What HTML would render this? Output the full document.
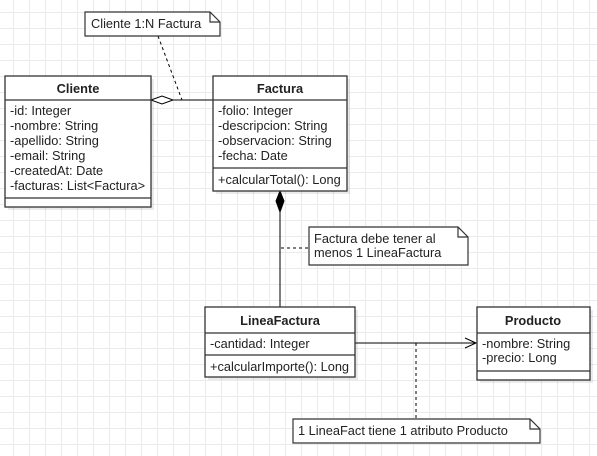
<!DOCTYPE html>
<html><head><style>
body{margin:0;width:597px;height:456px;overflow:hidden;background:#fff;
background-image:linear-gradient(#ebebeb 1px,transparent 1px),linear-gradient(90deg,#ebebeb 1px,transparent 1px);
background-size:16px 16px;background-position:13px 12px;font-family:"Liberation Sans",sans-serif;}
svg{position:absolute;left:0;top:0}
</style></head><body>
<svg width="597" height="456" xmlns="http://www.w3.org/2000/svg" font-family="Liberation Sans, sans-serif" font-size="12.8">
<g fill="#000" fill-opacity="0.08">
<rect x="8" y="79" width="146" height="131"/><rect x="216" y="79" width="134" height="115"/>
<rect x="208" y="310" width="150" height="70"/><rect x="480" y="310" width="113" height="73"/>
</g>
<g stroke="#000" fill="none">
<line x1="173" y1="100" x2="213" y2="100"/>
<polygon points="151,100 162,96 173,100 162,104" fill="#fff"/>
<line x1="158" y1="36" x2="182" y2="100" stroke-dasharray="3,3"/>
<line x1="280" y1="212" x2="280" y2="307"/>
<polygon points="280,191 284,201 280,212 276,201" fill="#000"/>
<line x1="281" y1="248" x2="309" y2="248" stroke-dasharray="3,3"/>
<line x1="355" y1="343" x2="476" y2="343"/>
<polyline points="465,338 476,343 465,348"/>
<line x1="416" y1="343" x2="416" y2="419" stroke-dasharray="3,3"/>
</g>
<g stroke="#333" fill="#fff" stroke-width="1.2">
<path d="M85,12 H210 L220,22 V36 H85 Z"/><path d="M210,12 V22 H220" fill="none"/>
<path d="M309,227 H458 L468,237 V265 H309 Z"/><path d="M458,227 V237 H468" fill="none"/>
<path d="M293,419 H530 L540,429 V443 H293 Z"/><path d="M530,419 V429 H540" fill="none"/>
</g>
<g fill="#222">
<text x="91" y="28">Cliente 1:N Factura</text>
<text x="314" y="243">Factura debe tener al</text><text x="314" y="257">menos 1 LineaFactura</text>
<text x="298" y="435">1 LineaFact tiene 1 atributo Producto</text>
</g>
<g stroke="#333" fill="#fff" stroke-width="1.3">
<rect x="5" y="76" width="146" height="131"/><line x1="5" y1="100" x2="151" y2="100"/><line x1="5" y1="198" x2="151" y2="198"/>
<rect x="213" y="76" width="134" height="115"/><line x1="213" y1="100" x2="347" y2="100"/><line x1="213" y1="168" x2="347" y2="168"/>
<rect x="205" y="307" width="150" height="70"/><line x1="205" y1="333" x2="355" y2="333"/><line x1="205" y1="355" x2="355" y2="355"/>
<rect x="477" y="307" width="113" height="73"/><line x1="477" y1="333" x2="590" y2="333"/><line x1="477" y1="371" x2="590" y2="371"/>
</g>
<g fill="#222">
<g font-weight="bold" text-anchor="middle">
<text x="78" y="93">Cliente</text><text x="280" y="93">Factura</text>
<text x="280" y="325">LineaFactura</text><text x="533" y="325">Producto</text>
</g>
<text x="10" y="115">-id: Integer</text><text x="10" y="130">-nombre: String</text>
<text x="10" y="145">-apellido: String</text><text x="10" y="160">-email: String</text>
<text x="10" y="175">-createdAt: Date</text><text x="10" y="190">-facturas: List&lt;Factura&gt;</text>
<text x="218" y="115">-folio: Integer</text><text x="218" y="130">-descripcion: String</text>
<text x="218" y="145">-observacion: String</text><text x="218" y="160">-fecha: Date</text>
<text x="218" y="184">+calcularTotal(): Long</text>
<text x="210" y="348">-cantidad: Integer</text><text x="210" y="371">+calcularImporte(): Long</text>
<text x="482" y="348">-nombre: String</text><text x="482" y="362">-precio: Long</text>
</g>
</svg>
</body></html>
